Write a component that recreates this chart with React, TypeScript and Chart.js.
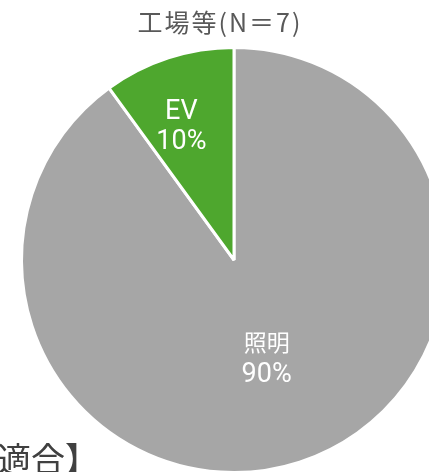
import React, { useEffect, useRef } from "react";
import { Chart, registerables } from "chart.js";

Chart.register(...registerables);

const TITLE = "工場等(N＝7)";
const FOOT_TEXT = "適合】";
const CATEGORIES = ["照明", "EV"];
const VALUES = [90, 10];
const PERCENT_LABELS = ["90%", "10%"];
const COLORS = ["#A6A6A6", "#4EA72E"];

const FONT = "'Noto Sans CJK JP', sans-serif";
const LABEL_FONT = "Roboto, 'Noto Sans CJK JP', sans-serif";

const labelPlugin = {
  id: "customLabels",
  afterDatasetsDraw(chart: any) {
    const ctx = chart.ctx;
    const meta = chart.getDatasetMeta(0);
    // radius fraction, angle tweak and font sizes per slice
    const place = [
      { frac: 0.497, dAng: 0, catSize: 23, pctSize: 27 },
      { frac: 0.67, dAng: -3.7, catSize: 27, pctSize: 27 },
    ];
    meta.data.forEach((arc: any, i: number) => {
      const { x, y, startAngle, endAngle, outerRadius } = arc.getProps(
        ["x", "y", "startAngle", "endAngle", "outerRadius"],
        true
      );
      const mid = (startAngle + endAngle) / 2 + (place[i].dAng * Math.PI) / 180;
      const r = outerRadius * place[i].frac;
      const cx = x + Math.cos(mid) * r;
      const cy = y + Math.sin(mid) * r;
      ctx.save();
      ctx.fillStyle = "#FFFFFF";
      ctx.textAlign = "center";
      ctx.textBaseline = "middle";
      ctx.font = `${place[i].catSize}px ${LABEL_FONT}`;
      ctx.fillText(CATEGORIES[i], cx, cy - 15);
      ctx.font = `${place[i].pctSize}px ${LABEL_FONT}`;
      ctx.fillText(PERCENT_LABELS[i], cx, cy + 15);
      ctx.restore();
    });
  },
  afterDraw(chart: any) {
    const ctx = chart.ctx;
    ctx.save();
    ctx.fillStyle = "#595959";
    ctx.textAlign = "center";
    ctx.textBaseline = "middle";
    ctx.font = `25px ${FONT}`;
    const w = ctx.measureText(TITLE).width;
    const n = Array.from(TITLE).length;
    const spacing = Math.min(2, Math.max(0, (168 - w) / n));
    (ctx as any).letterSpacing = `${spacing}px`;
    ctx.fillText(TITLE, 219 + spacing / 2, 22);
    (ctx as any).letterSpacing = "0px";
    ctx.fillStyle = "#404040";
    ctx.textAlign = "left";
    ctx.textBaseline = "alphabetic";
    ctx.font = `34px ${FONT}`;
    ctx.fillText(FOOT_TEXT, -3, 472);
    ctx.restore();
  },
};

export default function App() {
  const ref = useRef<HTMLCanvasElement | null>(null);
  useEffect(() => {
    if (!ref.current) return;
    const chart = new Chart(ref.current, {
      type: "pie",
      data: {
        labels: CATEGORIES,
        datasets: [
          {
            data: VALUES,
            backgroundColor: COLORS,
            borderColor: "#FFFFFF",
            borderWidth: 3,
          },
        ],
      },
      options: {
        animation: false,
        responsive: false,
        maintainAspectRatio: false,
        layout: { padding: { left: 20, top: 46, right: 22, bottom: 6 } },
        plugins: {
          legend: { display: false },
          title: { display: false },
          tooltip: { enabled: false },
        },
      },
      plugins: [labelPlugin],
    });
    return () => chart.destroy();
  }, []);
  return (
    <div
      style={{
        position: "fixed",
        left: 0,
        top: 0,
        width: 429,
        height: 472,
        overflow: "hidden",
        background: "#fff",
      }}
    >
      <canvas
        ref={ref}
        width={470}
        height={480}
        style={{ position: "absolute", left: 0, top: 0, width: 470, height: 480 }}
      />
    </div>
  );
}
